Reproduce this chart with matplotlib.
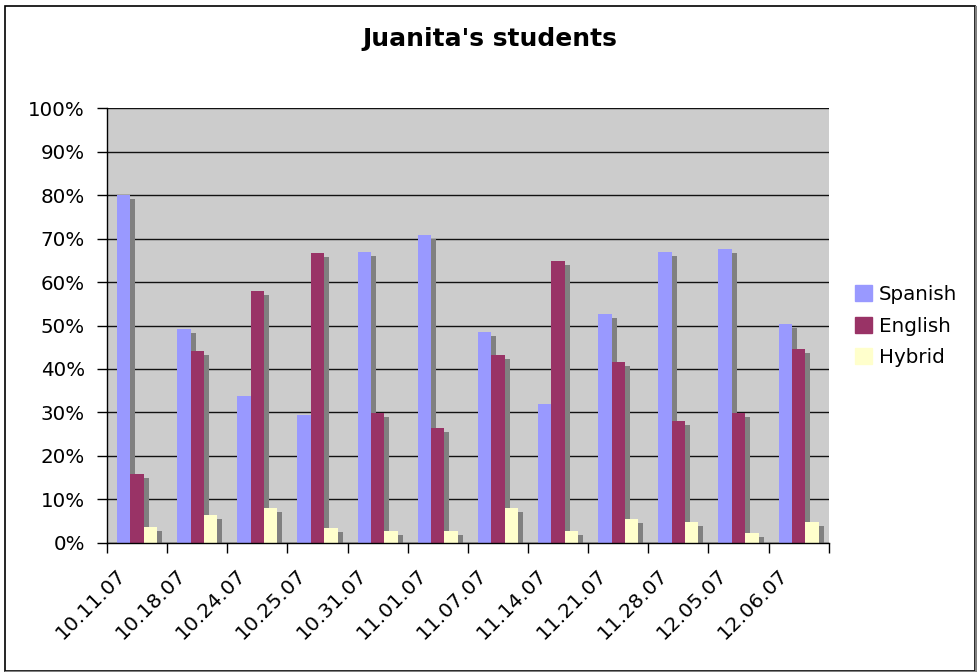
import matplotlib
matplotlib.use("Agg")
import matplotlib.pyplot as plt
import matplotlib.patches as mpatches
from matplotlib.transforms import ScaledTranslation
import numpy as np

# Weekly share of students by language group
dates = ["10.11.07", "10.18.07", "10.24.07", "10.25.07", "10.31.07", "11.01.07",
         "11.07.07", "11.14.07", "11.21.07", "11.28.07", "12.05.07", "12.06.07"]
spanish = [80.1, 49.3, 33.7, 29.5, 67.0, 70.9, 48.6, 32.0, 52.7, 67.0, 67.7, 50.4]
english = [15.9, 44.2, 58.0, 66.7, 29.9, 26.5, 43.3, 64.9, 41.7, 28.1, 29.8, 44.7]
hybrid = [3.7, 6.3, 8.1, 3.5, 2.8, 2.8, 7.9, 2.8, 5.4, 4.7, 2.3, 4.7]

series_names = ["Spanish", "English", "Hybrid"]
series_colors = ["#9999FF", "#993366", "#FFFFCC"]
shadow_color = "#808080"
plot_bg = "#CCCCCC"

plt.rcParams["font.family"] = ["DejaVu Sans"]
FS = 14.3

W, H = 978, 672
fig = plt.figure(figsize=(W / 100, H / 100), dpi=100)
fig.patch.set_facecolor("white")

# plot area in pixels
L, R, T, B = 107, 828.7, 108.3, 542.8
ax = fig.add_axes([L / W, 1 - B / H, (R - L) / W, (B - T) / H])
ax.set_facecolor(plot_bg)

n = len(dates)
x = np.arange(n)
bar_w = 1 / 4.5          # gap width 150%
start = (1 - 3 * bar_w) / 2

px_x = 1.0 / ((R - L) / n)      # data units per pixel (x)
px_y = 100.0 / (B - T)           # data units per pixel (y)
sdx, sdy = 5 * px_x, 4 * px_y

values = [spanish, english, hybrid]

# drop shadows first, then the bars on top
for k, vals in enumerate(values):
    lefts = x + start + k * bar_w
    heights = np.maximum(np.array(vals) - sdy, 0)
    ax.bar(lefts + sdx, heights, width=bar_w, align="edge", color=shadow_color,
           linewidth=0, zorder=2)
for k, vals in enumerate(values):
    lefts = x + start + k * bar_w
    ax.bar(lefts, vals, width=bar_w, align="edge", color=series_colors[k],
           linewidth=0, zorder=3, label=series_names[k])

ax.set_xlim(0, n)
ax.set_ylim(0, 100)
ax.set_yticks(np.arange(0, 101, 10))
ax.set_yticklabels([f"{v}%" for v in range(0, 101, 10)], fontsize=FS)
ax.yaxis.grid(True, color="#111111", linewidth=1.0, zorder=1)
ax.set_axisbelow(True)
ax.set_xticks(np.arange(0, n + 1))
ax.set_xticklabels([])
ax.tick_params(axis="both", direction="out", length=7, width=1, color="black")
ax.tick_params(axis="y", pad=9)
for s in ["top", "right"]:
    ax.spines[s].set_visible(False)
for s in ["left", "bottom"]:
    ax.spines[s].set_color("black")
    ax.spines[s].set_linewidth(1)
    ax.spines[s].set_zorder(5)

# rotated category labels under each group
off = ScaledTranslation(-14 / 100, -29 / 100, fig.dpi_scale_trans)
for i, d in enumerate(dates):
    ax.text(i + 0.5, 0, d, transform=ax.get_xaxis_transform() + off,
            rotation=45, rotation_mode="anchor", ha="right", va="center",
            fontsize=FS + 0.4)

fig.text(490 / W, 1 - 39 / H, "Juanita's students", ha="center", va="center",
         fontsize=18, fontweight="bold")

handles = [mpatches.Patch(color=c) for c in series_colors]
fig.legend(handles, series_names, loc="center left",
           bbox_to_anchor=(855 / W, 1 - 326 / H), frameon=False, fontsize=FS,
           handlelength=0.85, handleheight=0.85, handletextpad=0.35,
           labelspacing=0.62, borderpad=0, borderaxespad=0)

# chart frame with a gray shadow on the right and bottom
fig.add_artist(mpatches.Rectangle((4.5 / W, 1 - 670.5 / H), (975 - 4.5) / W,
                                  (670.5 - 5.5) / H, transform=fig.transFigure,
                                  fill=False, edgecolor="black", linewidth=1.2))
fig.add_artist(plt.Line2D([976.5 / W, 976.5 / W], [1 - 7 / H, 1 - 671.5 / H],
                          transform=fig.transFigure, color="#808080", linewidth=1.5))
fig.add_artist(plt.Line2D([6 / W, 976.5 / W], [1 - 671.5 / H, 1 - 671.5 / H],
                          transform=fig.transFigure, color="#808080", linewidth=1.5))

fig.savefig("out.png", dpi=100)
